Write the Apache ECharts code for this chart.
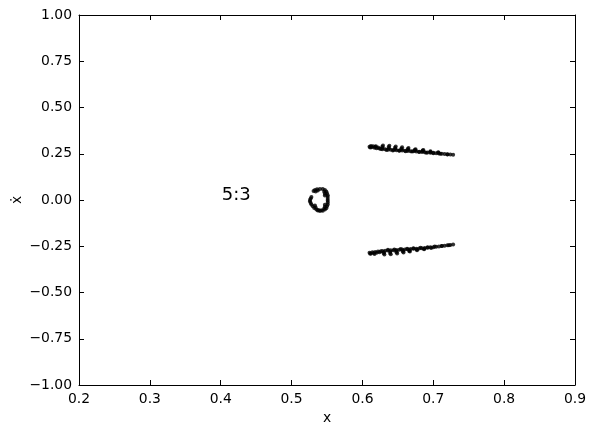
<!DOCTYPE html>
<html>
<head>
<meta charset="utf-8">
<script src="https://cdn.jsdelivr.net/npm/echarts@6/dist/echarts.min.js"></script>
<style>html,body{margin:0;padding:0;background:#fff}#c{width:596px;height:433px}</style>
</head>
<body>
<div id="c"></div>
<script>
// Axis ticks
const xTicks = [0.2, 0.3, 0.4, 0.5, 0.6, 0.7, 0.8, 0.9];
const yTicks = [-1.0, -0.75, -0.5, -0.25, 0.0, 0.25, 0.5, 0.75, 1.0];
const annotation = { text: '5:3', x: 0.4, y: 0.0 };

// Upper island chain (x, xdot)
const upperBand = [
  [0.610,0.288],[0.612,0.292],[0.613,0.285],[0.615,0.290],[0.617,0.283],[0.618,0.288],
  [0.620,0.280],[0.622,0.284],[0.624,0.278],[0.626,0.276],[0.611,0.284],[0.619,0.291],
  [0.628,0.275],[0.632,0.274],[0.636,0.272],[0.640,0.271],[0.644,0.270],[0.648,0.269],
  [0.652,0.268],[0.656,0.267],[0.660,0.266],[0.664,0.265],[0.668,0.264],[0.672,0.263],
  [0.676,0.262],[0.680,0.261],[0.684,0.259],[0.688,0.258],[0.692,0.257],[0.696,0.256],
  [0.700,0.255],[0.704,0.253],[0.708,0.252],[0.712,0.250],[0.716,0.249],[0.720,0.247],
  [0.724,0.246],[0.728,0.244],
  [0.634,0.270],[0.643,0.268],[0.652,0.266],[0.661,0.264],[0.670,0.262],[0.680,0.259],
  [0.690,0.256],[0.700,0.253],[0.710,0.250],[0.720,0.246],
  [0.6285,0.281],[0.628,0.288],[0.629,0.294],
  [0.6375,0.279],[0.637,0.286],[0.638,0.293],
  [0.6465,0.276],[0.646,0.283],[0.647,0.289],
  [0.6555,0.273],[0.655,0.279],[0.656,0.285],
  [0.6645,0.271],[0.664,0.276],[0.665,0.281],
  [0.6745,0.267],[0.674,0.271],[0.675,0.275],
  [0.685,0.263],[0.685,0.267],[0.686,0.270],
  [0.696,0.259],[0.696,0.264],
  [0.707,0.255],[0.707,0.258]
];

// Lower island chain
const lowerBand = [
  [0.610,-0.285],[0.612,-0.289],[0.614,-0.283],[0.616,-0.287],[0.618,-0.281],[0.620,-0.285],
  [0.622,-0.279],[0.624,-0.283],[0.626,-0.277],[0.611,-0.291],[0.617,-0.292],
  [0.628,-0.275],[0.632,-0.274],[0.636,-0.273],[0.640,-0.272],[0.644,-0.271],[0.648,-0.270],
  [0.652,-0.269],[0.656,-0.268],[0.660,-0.267],[0.664,-0.266],[0.668,-0.265],[0.672,-0.264],
  [0.676,-0.263],[0.680,-0.262],[0.684,-0.261],[0.688,-0.259],[0.692,-0.258],[0.696,-0.256],
  [0.700,-0.255],[0.704,-0.253],[0.708,-0.251],[0.712,-0.249],[0.716,-0.247],[0.720,-0.245],
  [0.724,-0.243],[0.728,-0.241],
  [0.636,-0.269],[0.645,-0.267],[0.654,-0.265],[0.663,-0.263],[0.672,-0.261],[0.682,-0.258],
  [0.692,-0.255],[0.702,-0.252],[0.712,-0.248],[0.722,-0.244],
  [0.6305,-0.281],[0.630,-0.288],[0.631,-0.294],
  [0.6395,-0.279],[0.639,-0.286],[0.640,-0.293],
  [0.6485,-0.276],[0.648,-0.283],[0.649,-0.289],
  [0.6575,-0.273],[0.657,-0.279],[0.658,-0.284],
  [0.6665,-0.270],[0.666,-0.275],[0.667,-0.279],
  [0.677,-0.267],[0.677,-0.271],
  [0.687,-0.263],[0.687,-0.266],
  [0.697,-0.259]
];

// Central loop
const centerLoop = [
  [0.540,0.060],[0.544,0.059],[0.547,0.054],[0.549,0.046],[0.550,0.036],[0.551,0.026],
  [0.551,0.016],[0.551,0.006],[0.551,-0.004],[0.551,-0.014],[0.551,-0.024],[0.550,-0.034],
  [0.549,-0.044],[0.547,-0.052],[0.544,-0.058],[0.540,-0.060],
  [0.546,0.044],[0.547,0.034],[0.547,0.024],[0.547,-0.026],[0.547,-0.036],[0.546,-0.046],
  [0.536,0.058],[0.533,0.054],[0.531,0.048],[0.534,0.046],[0.537,0.052],
  [0.528,0.016],[0.527,0.008],[0.526,0.000],[0.526,-0.008],[0.527,-0.016],[0.528,-0.024],
  [0.530,-0.034],[0.532,-0.043],[0.535,-0.051],[0.537,-0.057],[0.533,-0.030],[0.534,-0.040],
  [0.538,-0.054],[0.542,-0.055]
];

const chart = echarts.init(document.getElementById('c'), null, { renderer: 'canvas' });
const font = 'DejaVu Sans';
const axisCommon = {
  type: 'value',
  axisLine: { show: true, onZero: false, lineStyle: { color: '#000', width: 1 } },
  axisTick: { show: true, inside: true, length: 5, lineStyle: { color: '#000', width: 1 } },
  splitLine: { show: false },
};
function fmtY(v) { return (v < 0 ? '\u2212' : '') + Math.abs(v).toFixed(2); }
const sym = { type: 'scatter', symbol: 'circle', symbolSize: 4, itemStyle: { color: '#000' }, silent: true, animation: false };
chart.setOption({
  animation: false,
  backgroundColor: '#fff',
  grid: { left: 79, right: 21, top: 15, bottom: 48, containLabel: false },
  xAxis: [
    Object.assign({}, axisCommon, {
      min: xTicks[0], max: xTicks[xTicks.length - 1], interval: 0.1, position: 'bottom',
      axisLabel: { show: true, color: '#000', fontFamily: font, fontSize: 13.9, margin: 7, formatter: v => v.toFixed(1) },
      name: 'x', nameLocation: 'middle', nameGap: 25, nameTextStyle: { color: '#000', fontFamily: font, fontSize: 13.9 }
    }),
    Object.assign({}, axisCommon, {
      min: xTicks[0], max: xTicks[xTicks.length - 1], interval: 0.1, position: 'top',
      axisLabel: { show: false }
    })
  ],
  yAxis: [
    Object.assign({}, axisCommon, {
      min: yTicks[0], max: yTicks[yTicks.length - 1], interval: 0.25, position: 'left',
      axisLabel: { show: true, color: '#000', fontFamily: font, fontSize: 13.9, margin: 7, formatter: fmtY }
    }),
    Object.assign({}, axisCommon, {
      min: yTicks[0], max: yTicks[yTicks.length - 1], interval: 0.25, position: 'right',
      axisLabel: { show: false }
    })
  ],
  series: [
    Object.assign({}, sym, { name: 'upper', data: upperBand }),
    Object.assign({}, sym, { name: 'lower', data: lowerBand }),
    Object.assign({}, sym, { name: 'center', data: centerLoop })
  ]
});
const p = chart.convertToPixel({ gridIndex: 0 }, [annotation.x, annotation.y]);
chart.setOption({
  graphic: [
    { type: 'text', x: p[0] + 1, y: p[1] + 4, style: { text: annotation.text, fontFamily: font, fontSize: 18, fill: '#000', textAlign: 'left', textVerticalAlign: 'bottom' } },
    { type: 'text', x: 17, y: 200, rotation: Math.PI / 2, style: { text: '\u1E8B', fontFamily: font, fontSize: 13.9, fill: '#000', textAlign: 'center', textVerticalAlign: 'middle' } }
  ]
});
</script>
</body>
</html>
